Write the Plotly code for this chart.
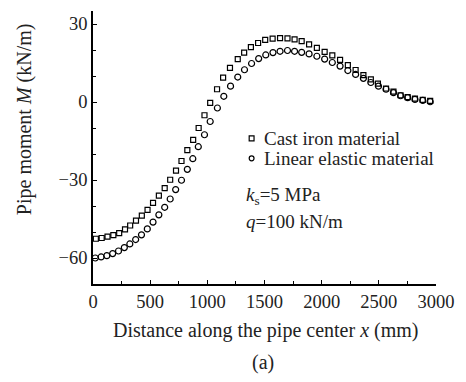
import plotly.graph_objects as go

# Cast iron material (squares)
x_cast = [25, 76, 127, 178, 229, 280, 325, 376, 427, 477, 525, 576, 627, 675, 726, 774, 825, 876, 924, 975,
          1025, 1085, 1138, 1198, 1266, 1322, 1381, 1444, 1506, 1571, 1636, 1701, 1763, 1825, 1890, 1958,
          2026, 2093, 2161, 2229, 2297, 2365, 2430, 2492, 2563, 2628, 2690, 2752, 2816, 2884, 2949]
m_cast = [-52.6, -52.3, -51.8, -51.2, -50.4, -49.0, -47.5, -45.6, -43.7, -41.5, -38.8, -36.0, -33.1, -29.9,
          -26.4, -22.7, -18.5, -14.6, -10.0, -5.1, -0.3, 4.9, 9.4, 13.1, 16.5, 19.0, 21.1, 22.7, 23.9, 24.4,
          24.6, 24.5, 24.1, 23.4, 22.2, 20.8, 19.3, 17.9, 16.2, 14.2, 12.3, 10.3, 8.7, 7.1, 5.2, 4.0, 2.6,
          1.9, 1.3, 0.8, 0.4]

# Linear elastic material (circles)
x_lin = [20, 71, 121, 172, 223, 274, 322, 373, 424, 475, 525, 576, 627, 675, 723, 774, 825, 873, 921, 975,
         1025, 1088, 1144, 1203, 1266, 1325, 1387, 1449, 1511, 1574, 1636, 1701, 1763, 1825, 1890, 1958,
         2026, 2093, 2161, 2229, 2297, 2365, 2430, 2497, 2563, 2628, 2690, 2752, 2816, 2884, 2949]
m_lin = [-60.0, -59.6, -59.1, -58.3, -57.3, -56.0, -54.6, -52.9, -51.1, -48.8, -46.2, -43.4, -40.5, -37.3,
         -33.7, -30.1, -25.9, -21.8, -17.2, -12.6, -7.5, -2.3, 2.2, 6.1, 9.6, 12.4, 14.8, 16.7, 18.1, 19.0,
         19.5, 19.8, 19.5, 19.1, 18.5, 17.6, 16.5, 15.2, 13.8, 12.1, 10.6, 9.1, 7.5, 6.1, 4.9, 3.6, 2.4,
         1.7, 1.0, 0.6, 0.1]

x_ticks = [0, 500, 1000, 1500, 2000, 2500, 3000]
y_ticks = [-60, -30, 0, 30]
y_tick_labels = ["\u221260", "\u221230", "0", "30"]

FONT = "Liberation Serif"
TXT = "#222"
FS_TITLE = 20
FS_TICK = 18.5
FS_LEG = 19

fig = go.Figure()
fig.add_trace(go.Scatter(x=x_cast, y=m_cast, mode="markers", name="Cast iron material",
                         marker=dict(symbol="square-open", size=5, color="black", line=dict(width=1.2))))
fig.add_trace(go.Scatter(x=x_lin, y=m_lin, mode="markers", name="Linear elastic material",
                         marker=dict(symbol="circle-open", size=6, color="black", line=dict(width=1.2))))

axis_common = dict(showline=True, linecolor="black", linewidth=1.5, mirror=False, showgrid=False,
                   zeroline=False, ticks="inside", ticklen=4, tickwidth=1.2, tickcolor="black",
                   ticklabeloverflow="allow",
                   tickfont=dict(family=FONT, size=FS_TICK, color=TXT))

fig.update_xaxes(range=[0, 3000], tickvals=x_ticks, ticktext=[str(v) for v in x_ticks],
                 minor=dict(dtick=250, ticks="inside", ticklen=3, tickwidth=1.2, tickcolor="black"),
                 **axis_common)
fig.update_yaxes(range=[-70, 35], tickvals=y_ticks, ticktext=y_tick_labels,
                 minor=dict(tickvals=[-70, -50, -40, -20, -10, 10, 20, 35], ticks="inside", ticklen=3,
                            tickwidth=1.2, tickcolor="black"),
                 **axis_common)

W, H = 466, 382
L, R, T, B = 93, 19, 11, 98
pw, ph = W - L - R, H - T - B


def px(xp):
    return (xp - L) / pw


def py(yp):
    return 1 - (yp - T) / ph


# legend (manual)
annos = [
    dict(x=267, y=138, text="Cast iron material"),
    dict(x=267, y=158, text="Linear elastic material"),
    dict(x=249, y=196, text="<i>k</i><sub>s</sub>=5 MPa"),
    dict(x=249, y=221, text="<i>q</i>=100 kN/m"),
]
for a in annos:
    fig.add_annotation(x=px(a["x"]), y=py(a["y"]), xref="paper", yref="paper",
                       text=a["text"], showarrow=False, xanchor="left", yanchor="middle",
                       font=dict(family=FONT, size=FS_LEG, color=TXT))
sx = 256.7
fig.add_shape(type="rect", xref="paper", yref="paper",
              x0=px(sx - 2.5), x1=px(sx + 2.5), y0=py(138.3 + 2.5), y1=py(138.3 - 2.5),
              line=dict(color="black", width=1.2))
fig.add_shape(type="circle", xref="paper", yref="paper",
              x0=px(sx - 2.5), x1=px(sx + 2.5), y0=py(158.3 + 2.5), y1=py(158.3 - 2.5),
              line=dict(color="black", width=1.2))

# axis titles
fig.add_annotation(x=px(271), y=py(330), xref="paper", yref="paper",
                   text="Distance along the pipe center <i>x</i> (mm)", showarrow=False,
                   xanchor="center", yanchor="middle", font=dict(family=FONT, size=FS_TITLE, color=TXT))
fig.add_annotation(x=px(268), y=py(362), xref="paper", yref="paper",
                   text="(a)", showarrow=False, xanchor="center", yanchor="middle",
                   font=dict(family=FONT, size=FS_TITLE, color=TXT))
fig.add_annotation(x=px(23), y=py(119), xref="paper", yref="paper",
                   text="Pipe moment <i>M</i> (kN/m)", showarrow=False, textangle=-90,
                   xanchor="center", yanchor="middle", font=dict(family=FONT, size=FS_TITLE, color=TXT))

fig.update_layout(width=W, height=H, margin=dict(l=L, r=R, t=T, b=B), showlegend=False,
                  plot_bgcolor="white", paper_bgcolor="white")

fig.write_html("out.html", config={"displayModeBar": False},
               post_script="document.body.style.margin='0';document.body.style.padding='0';")
